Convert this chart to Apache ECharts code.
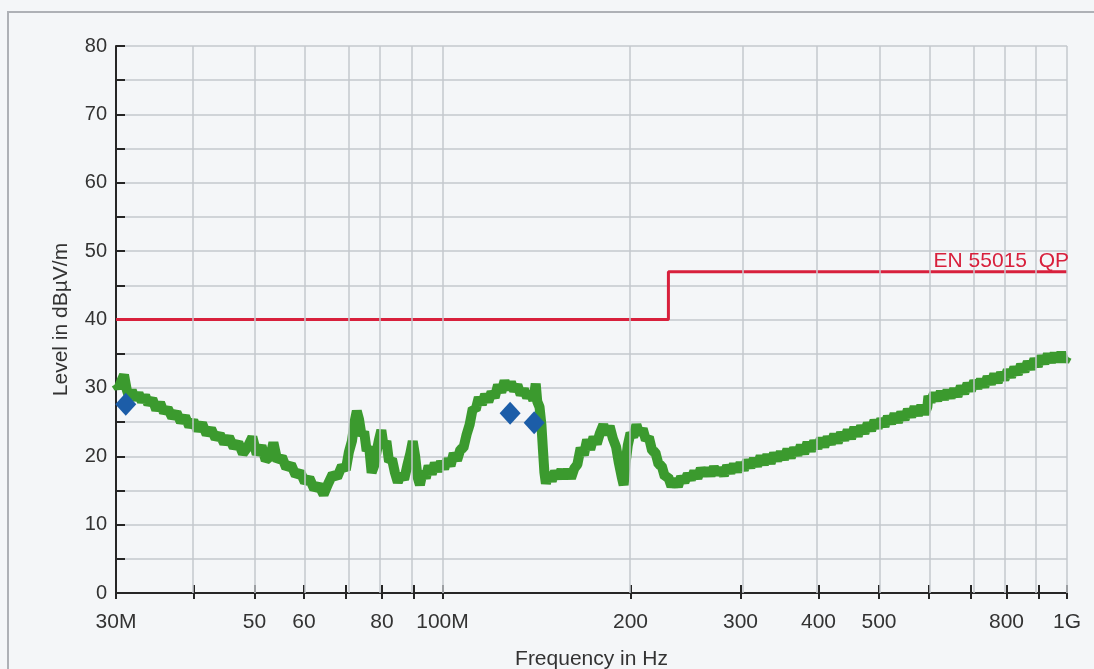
<!DOCTYPE html>
<html>
<head>
<meta charset="utf-8">
<script src="https://cdn.jsdelivr.net/npm/echarts@6/dist/echarts.min.js"></script>
<style>
html,body{margin:0;padding:0;background:#f4f6f8;}
#chart{width:1094px;height:669px;}
</style>
</head>
<body>
<div id="chart"></div>
<script>
// ---- data (frequency in MHz, level in dBµV/m) ----
const traceFreq = [
30.0,30.3,30.6,30.9,31.2,31.5,31.8,32.2,32.6,33.0,33.4,33.8,34.3,34.8,35.3,35.8,36.3,36.9,37.5,38.1,38.7,39.3,39.9,40.5,
41.2,41.9,42.6,43.3,44.0,44.7,45.5,46.3,47.1,47.9,48.7,49.6,50.4,51.3,52.1,53.0,53.6,54.4,55.3,56.2,57.2,58.2,59.2,60.2,
61.2,62.3,63.4,64.5,65.6,66.7,67.8,69.0,70.0,70.8,71.6,72.3,72.9,73.5,74.2,74.9,75.6,76.3,77.0,77.7,78.4,79.1,79.8,80.5,
81.3,82.1,83.0,83.9,84.8,85.8,86.8,87.8,88.8,89.6,90.4,91.2,92.0,93.0,94.0,95.0,96.1,97.2,98.3,99.4,
100.6,101.8,103.0,104.2,105.5,106.8,108.0,109.3,110.5,111.8,113.0,114.3,115.6,117.0,118.4,119.8,121.2,122.7,124.2,125.7,
127.2,128.7,130.2,131.8,133.4,135.0,136.6,138.2,139.8,141.0,141.8,143.0,144.0,144.8,145.6,146.4,147.8,149.6,151.4,153.2,
155.0,156.8,158.7,160.6,162.5,164.4,166.4,168.4,170.4,172.4,174.5,176.6,178.7,180.9,183.0,185.2,187.4,189.6,191.6,193.6,
195.0,196.4,198.0,200.0,202.0,204.4,206.8,209.2,211.6,214.0,216.6,219.2,221.8,224.4,227.0,229.8,232.6,235.4,238.2,241.0,
244.0,247.0,250.0,253.0,256.0,259.2,262.4,265.6,268.8,272.0,275.4,278.8,282.2,285.6,289.2,292.8,296.4,300.0,303.7,307.5,
311.3,315.2,319.1,323.1,327.1,331.2,335.3,339.5,343.7,348.0,352.3,356.7,361.1,365.6,370.2,374.8,379.4,384.1,388.9,393.7,
398.6,403.6,408.6,413.7,418.8,424.0,429.3,434.6,440.0,445.5,451.0,456.6,462.3,468.0,473.8,479.7,485.7,491.7,497.8,504.0,
510.3,516.6,523.0,529.5,536.1,542.7,549.4,556.2,563.1,570.1,577.2,584.3,591.6,597.5,600.0,605.0,612.5,620.1,627.8,635.6,
643.5,651.5,659.6,667.8,676.1,684.5,693.0,701.6,710.3,719.1,728.0,737.1,746.2,755.5,764.9,774.4,784.0,793.7,803.6,813.5,
823.6,833.9,844.2,854.7,865.3,876.0,886.9,897.9,909.1,920.3,931.8,943.3,955.0,966.9,978.9,991.0,1000.0];
const traceLevel = [
30.6,30.0,31.0,31.9,29.8,28.6,29.6,28.3,29.2,28.0,28.9,27.6,28.4,26.8,27.8,26.4,27.0,25.7,26.4,25.0,25.8,24.4,25.2,23.8,
24.8,23.2,24.0,22.6,23.2,21.9,22.8,21.3,22.0,20.4,21.3,22.8,20.3,21.5,19.4,20.0,22.0,19.3,19.9,18.3,18.8,17.2,17.7,16.2,
16.8,15.2,15.8,14.4,16.0,17.4,16.9,18.6,18.0,20.6,22.2,25.0,26.6,25.4,23.0,23.6,20.8,21.4,17.6,18.6,20.6,22.4,23.8,21.4,
22.2,19.2,19.6,17.6,16.2,17.4,16.6,18.6,20.4,22.2,20.0,17.0,15.8,17.8,16.8,18.6,17.4,19.0,17.8,19.2,
18.2,19.6,18.6,20.4,19.4,21.0,21.2,23.2,24.6,27.0,26.8,28.6,27.6,29.0,28.0,29.4,28.6,30.4,29.4,31.0,
29.8,30.8,29.6,30.4,29.0,29.8,28.6,29.4,28.2,30.6,28.0,27.2,24.6,21.0,17.6,16.0,17.6,16.4,17.8,16.8,
18.0,16.8,18.0,16.8,18.2,18.8,21.2,20.2,22.4,21.0,22.8,21.8,23.4,24.6,23.2,24.4,22.6,21.4,19.0,17.0,
15.8,19.0,21.6,23.4,22.8,24.6,23.2,24.0,22.4,22.8,20.8,20.6,18.8,18.6,17.0,17.0,15.6,16.6,15.6,17.0,
16.2,17.4,16.6,17.8,16.8,18.2,17.2,18.2,17.2,18.4,17.4,18.2,17.2,18.6,17.6,18.8,17.8,19.0,18.0,19.4,
18.4,19.6,18.6,20.0,18.8,20.2,19.0,20.4,19.4,20.6,19.6,21.0,19.8,21.2,20.2,21.6,20.4,22.0,20.8,22.2,
21.2,22.6,21.4,22.8,21.8,23.2,22.0,23.4,22.4,23.8,22.6,24.2,23.0,24.4,23.4,24.8,23.8,25.2,24.2,25.4,
24.4,25.8,24.8,26.2,25.0,26.4,25.4,26.8,25.8,27.2,26.0,27.4,26.2,27.2,28.8,28.0,29.2,28.2,29.4,28.4,
29.6,28.6,29.8,28.8,30.2,29.2,30.6,29.6,31.0,30.0,31.2,30.2,31.6,30.6,32.0,30.8,32.2,31.2,32.6,31.6,
33.0,32.0,33.4,32.4,33.8,32.8,34.2,33.2,34.6,33.6,34.9,33.8,35.0,33.9,35.1,33.9,34.6];

const limitFreq = [30, 230, 230, 1000];
const limitLevel = [40, 40, 47, 47];
const limitName = 'EN 55015  QP';

const peakFreq = [31.1, 128.3, 140.2];
const peakLevel = [27.6, 26.3, 24.9];

const gridFreq = [40,50,60,70,80,90,100,200,300,400,500,600,700,800,900,1000];
const tickFreq = [30,40,50,60,70,80,90,100,200,300,400,500,600,700,800,900,1000];
const labelFreq = [30,50,60,80,100,200,300,400,500,800,1000];
const labelText = ['30M','50','60','80','100M','200','300','400','500','800','1G'];

const yMin = 0, yMax = 80, yStep = 5;

// ---- build ----
const L = Math.log10;
const pair = (fs, vs) => fs.map((f, i) => [L(f), vs[i]]);
const labelFor = v => {
  for (let i = 0; i < labelFreq.length; i++) if (Math.abs(L(labelFreq[i]) - v) < 1e-6) return labelText[i];
  return '';
};

const font = 'Liberation Sans, Arial, sans-serif';
const axisColor = '#262626';
const gridColor = '#c5c8ce';
const limitColor = '#d8203c';

const chart = echarts.init(document.getElementById('chart'));
chart.setOption({
  backgroundColor: '#f4f6f8',
  animation: false,
  grid: {left: 116, right: 27, top: 46, bottom: 76, containLabel: false, outerBoundsMode: 'none'},
  graphic: [{type: 'rect', shape: {x: 8, y: 12, width: 1200, height: 800},
             style: {fill: 'none', stroke: '#aeb1b6', lineWidth: 2}, z: -1, silent: true}],
  xAxis: [{
    type: 'value', min: L(30), max: 3, position: 'bottom',
    name: 'Frequency in Hz', nameLocation: 'middle', nameGap: 56,
    nameTextStyle: {fontSize: 21, color: '#333', fontFamily: font},
    axisLine: {show: true, onZero: false, lineStyle: {color: axisColor, width: 2}},
    axisTick: {show: true, inside: true, length: 8, customValues: tickFreq.map(L),
               lineStyle: {color: axisColor, width: 2}},
    axisLabel: {show: true, customValues: labelFreq.map(L), formatter: labelFor, margin: 19,
                fontSize: 21, color: '#333', fontFamily: font, showMinLabel: true, showMaxLabel: true},
    splitLine: {show: false}
  }, {
    type: 'value', min: L(30), max: 3, position: 'bottom', offset: 0,
    axisLine: {show: false},
    axisTick: {show: true, inside: false, length: 6, customValues: tickFreq.map(L),
               lineStyle: {color: axisColor, width: 2}},
    axisLabel: {show: false},
    splitLine: {show: false}
  }],
  yAxis: {
    type: 'value', min: yMin, max: yMax, interval: yStep,
    name: 'Level in dBµV/m', nameLocation: 'middle', nameGap: 44, nameRotate: 90,
    nameTextStyle: {fontSize: 21, color: '#333', fontFamily: font},
    axisLine: {show: true, onZero: false, lineStyle: {color: axisColor, width: 2}},
    axisTick: {show: true, inside: true, length: 9, lineStyle: {color: axisColor, width: 2}},
    axisLabel: {formatter: v => (v % 10 === 0 ? String(v) : ''), margin: 9,
                fontSize: 20, color: '#333', fontFamily: font},
    splitLine: {show: true, lineStyle: {color: gridColor, width: 1.5}}
  },
  series: [{
    type: 'line', name: 'grid', data: [], z: 1, silent: true,
    markLine: {silent: true, symbol: ['none', 'none'], animation: false,
               label: {show: false},
               lineStyle: {color: gridColor, width: 1.5, type: 'solid'},
               data: gridFreq.map(f => ({xAxis: L(f)}))}
  }, {
    type: 'line', name: 'trace', data: pair(traceFreq, traceLevel), z: 3,
    showSymbol: false, symbol: 'none',
    lineStyle: {color: '#3b9a2e', width: 10, join: 'bevel'}
  }, {
    type: 'line', name: limitName, data: pair(limitFreq, limitLevel), z: 4,
    showSymbol: false, symbol: 'none',
    lineStyle: {color: limitColor, width: 3},
    markPoint: {
      silent: true, animation: false,
      data: [{coord: [L(limitFreq[limitFreq.length - 1]), limitLevel[limitLevel.length - 1]],
              symbol: 'circle', symbolSize: 0,
              label: {show: true, formatter: limitName, position: 'insideBottomRight', distance: 0,
                      offset: [2, 0], color: limitColor, fontSize: 21, fontFamily: font}}]
    }
  }, {
    type: 'scatter', name: 'peaks', data: pair(peakFreq, peakLevel), z: 5,
    symbol: 'diamond', symbolSize: [21, 23],
    itemStyle: {color: '#1c5da8', opacity: 1}
  }]
});
</script>
</body>
</html>
